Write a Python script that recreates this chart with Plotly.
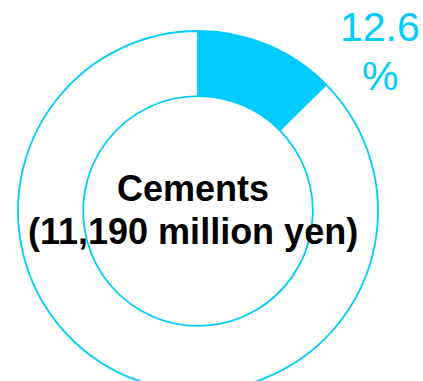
import plotly.graph_objects as go

# Segment share of net sales
segments = ["Cements", "Other segments"]
shares = [12.6, 87.4]
segment_name = "Cements"
segment_sales = "11,190 million yen"

CYAN = "#00CCFF"
FONT = "Liberation Sans, Arial, sans-serif"
W, H = 423, 400

fig = go.Figure(
    go.Pie(
        labels=segments,
        values=shares,
        sort=False,
        direction="clockwise",
        rotation=0,
        hole=0.638,
        textinfo="none",
        hoverinfo="label+percent",
        marker=dict(colors=[CYAN, "white"], line=dict(color=CYAN, width=1.8)),
        domain=dict(x=[18 / W, 378 / W], y=[1 - 391 / H, 1 - 31 / H]),
        showlegend=False,
    )
)


def text_line(text, x_px, y_px, size, color, weight="normal"):
    """Place one line of text centred on (x_px, y_px), measured from the top-left."""
    fig.add_annotation(
        text=text,
        xref="paper", yref="paper",
        x=x_px / W, y=1 - y_px / H,
        xanchor="center", yanchor="middle",
        showarrow=False,
        font=dict(family=FONT, size=size, color=color, weight=weight),
    )


# centre caption
text_line(segment_name, 193, 189, 36, "black", "bold")
text_line(f"({segment_sales})", 192.5, 232, 36, "black", "bold")

# share label
text_line(f"{shares[0]}", 380, 27, 41, CYAN)
text_line("%", 380, 76, 41, CYAN)

fig.update_layout(
    width=W, height=H,
    margin=dict(l=0, r=0, t=0, b=0),
    paper_bgcolor="white",
    plot_bgcolor="white",
)

fig.write_html(
    "out.html",
    post_script="document.documentElement.style.overflow='hidden';document.body.style.overflow='hidden';",
)
